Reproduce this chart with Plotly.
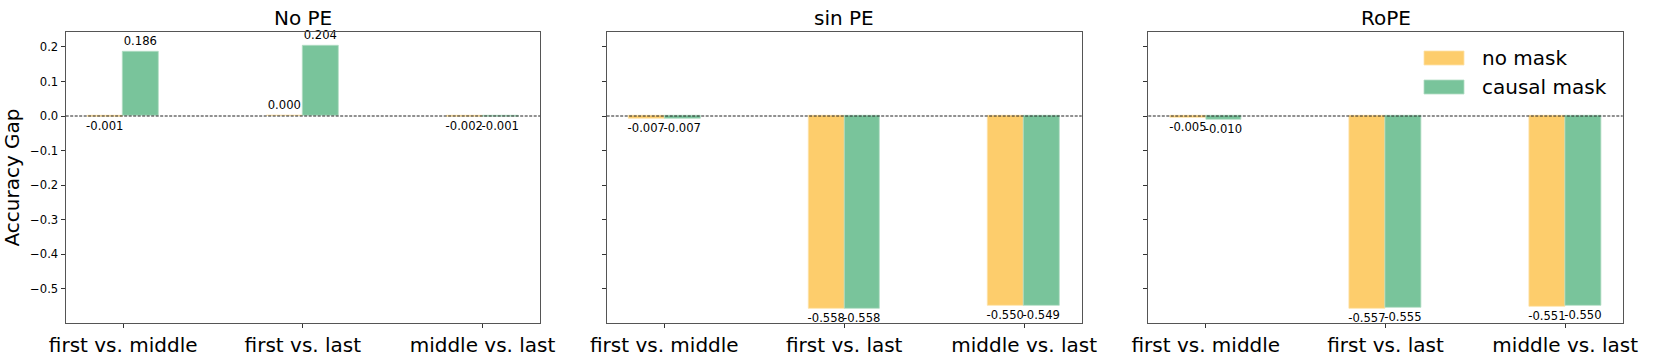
"""
Accuracy gap per positional-encoding type, no mask vs causal mask.
"""

import plotly.graph_objects as go

W, H = 1661, 361

categories = ['first vs. middle', 'first vs. last', 'middle vs. last']
panel_titles = ['No PE', 'sin PE', 'RoPE']
series_names = ['no mask', 'causal mask']

# accuracy gaps, one list per panel
no_pe_no_mask = [-0.001, 0.000, -0.002]
no_pe_causal = [0.186, 0.204, -0.001]
sin_pe_no_mask = [-0.007, -0.558, -0.550]
sin_pe_causal = [-0.007, -0.558, -0.549]
rope_no_mask = [-0.005, -0.557, -0.551]
rope_causal = [-0.010, -0.555, -0.550]

y_ticks = [0.2, 0.1, 0.0, -0.1, -0.2, -0.3, -0.4, -0.5]

panels = [
    (no_pe_no_mask, no_pe_causal),
    (sin_pe_no_mask, sin_pe_causal),
    (rope_no_mask, rope_causal),
]

colors = ['#FDCD6C', '#79C49B']
edges = ['#FEE2A8', '#B2DDC4']
offsets = [-0.1, 0.1]

# pixel layout of the three axes boxes
x_domains = [(65.7, 540.0), (606.7, 1081.7), (1148.3, 1622.7)]
y_top, y_bottom = 31.7, 323.3

font = 'DejaVu Sans'

fig = go.Figure()

for i, (vals_a, vals_b) in enumerate(panels):
    suffix = '' if i == 0 else str(i + 1)
    for j, vals in enumerate([vals_a, vals_b]):
        fig.add_trace(go.Bar(
            x=[k + offsets[j] for k in range(len(categories))],
            y=vals,
            width=0.2,
            name=series_names[j],
            showlegend=False,
            marker=dict(color=colors[j], line=dict(color=edges[j], width=0.8)),
            text=[f"{v:.3f}" for v in vals],
            textposition='outside',
            constraintext='none',
            cliponaxis=False,
            textfont=dict(family=font, size=11.6, color='black'),
            xaxis='x' + suffix,
            yaxis='y' + suffix,
        ))

    dom = [x_domains[i][0] / W, x_domains[i][1] / W]
    common_x = dict(
        domain=dom,
        range=[-0.32, 2.32],
        tickmode='array',
        tickvals=list(range(len(categories))),
        ticktext=categories,
        ticks='outside', ticklen=4, tickcolor='#333',
        tickfont=dict(family=font, size=20, color='black'),
        showgrid=False, zeroline=False,
        showline=True, mirror=True, linecolor='#555', linewidth=1.3,
        automargin=False,
        anchor='y' + suffix,
    )
    common_y = dict(
        domain=[1 - y_bottom / H, 1 - y_top / H],
        range=[-0.6, 0.244],
        tickmode='array',
        tickvals=y_ticks,
        ticktext=[f"{t:.1f}".replace('-', '\u2212') for t in y_ticks] if i == 0 else [''] * len(y_ticks),
        ticks='outside', ticklen=4, tickcolor='#333',
        tickfont=dict(family=font, size=11.6, color='black'),
        showgrid=False, zeroline=False,
        showline=True, mirror=True, linecolor='#555', linewidth=1.3,
        automargin=False,
        anchor='x' + suffix,
    )
    if i == 0:
        common_y['title'] = dict(text='Accuracy Gap', font=dict(family=font, size=20, color='black'), standoff=8)
    fig.update_layout(**{'xaxis' + suffix: common_x, 'yaxis' + suffix: common_y})

    # dashed zero reference line
    fig.add_shape(type='line', xref=f'x{suffix} domain', yref='y' + suffix,
                  x0=0, x1=1, y0=0, y1=0,
                  line=dict(color='#222', width=1, dash='3px,1.5px'))

    # panel title
    fig.add_annotation(text=panel_titles[i], xref='paper', yref='paper',
                       x=(dom[0] + dom[1]) / 2, y=1 - 18 / H,
                       xanchor='center', yanchor='middle',
                       showarrow=False, font=dict(family=font, size=20, color='black'))

# legend drawn by hand so the swatches get matplotlib's proportions
legend_rows = [(51, 65), (80, 94)]
for j, (top, bot) in enumerate(legend_rows):
    fig.add_shape(type='rect', xref='paper', yref='paper',
                  x0=1424 / W, x1=1464 / W, y0=1 - bot / H, y1=1 - top / H,
                  fillcolor=colors[j], line=dict(color=edges[j], width=0.8))
    fig.add_annotation(text=series_names[j], xref='paper', yref='paper',
                       x=1480 / W, y=1 - (top + bot) / 2 / H,
                       xanchor='left', yanchor='middle', showarrow=False,
                       font=dict(family=font, size=20, color='black'))

fig.update_layout(
    width=W, height=H,
    margin=dict(l=0, r=0, t=0, b=0),
    plot_bgcolor='white', paper_bgcolor='white',
    barmode='overlay',
    bargap=0,
    showlegend=False,
)

# drop the browser's default body margin so the figure sits at the page origin
fig.write_html("out.html", config={'displayModeBar': False},
               post_script="document.body.style.margin='0';")
